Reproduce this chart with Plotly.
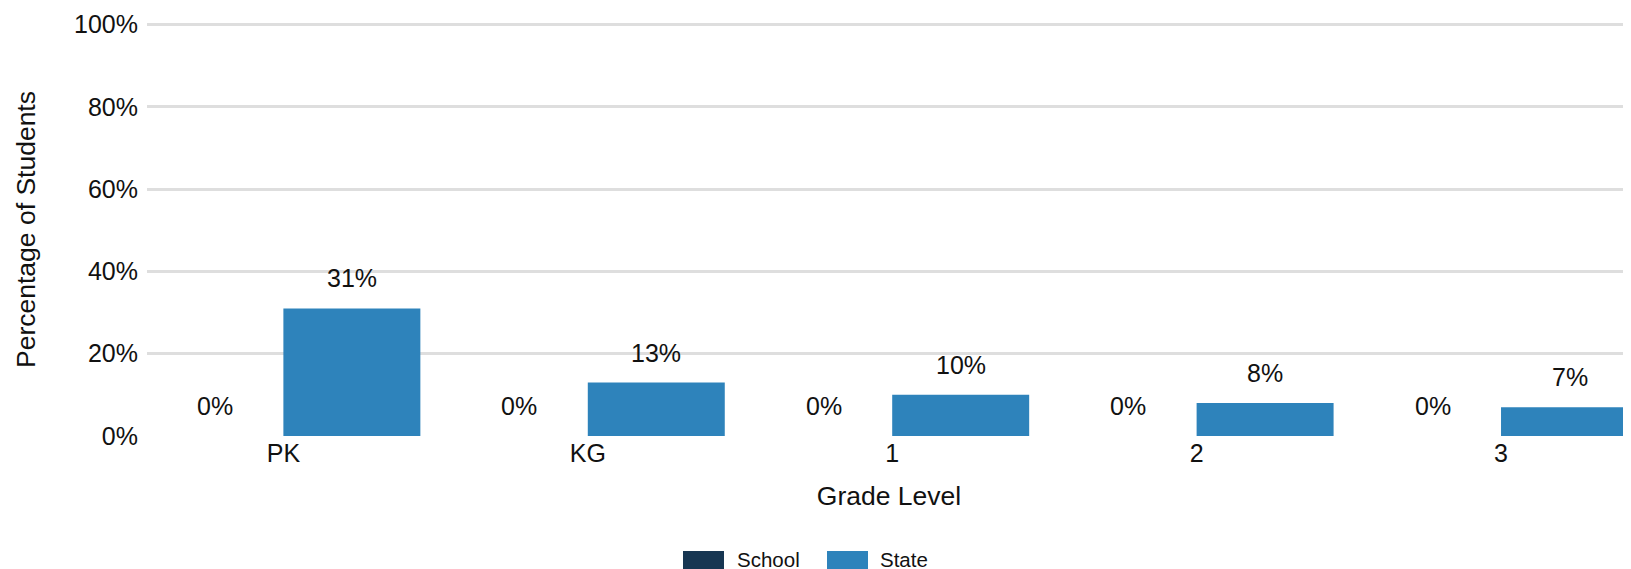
import plotly.graph_objects as go

categories = ["PK", "KG", "1", "2", "3"]
school_values = [0, 0, 0, 0, 0]
state_values = [31, 13, 10, 8, 7]
series_names = ["School", "State"]
series_colors = ["#173652", "#2E83BB"]
y_ticks = [0, 20, 40, 60, 80, 100]
y_tick_labels = ["0%", "20%", "40%", "60%", "80%", "100%"]

OFF = 8  # page body margin
W, H = 1631 - OFF, 569 - OFF
YMAX = 100.4
ML, MR, MB = 147 - OFF, 0, 133
MT = 25 - OFF - 411 * (YMAX - 100) / 100
PW, PH = W - ML - MR, H - MT - MB

FONT = "Liberation Sans, Arial, sans-serif"
TXT = "#111111"

fig = go.Figure()
for name, vals, col in zip(series_names, [school_values, state_values], series_colors):
    fig.add_trace(go.Bar(x=categories, y=vals, name=name, marker_color=col,
                         marker_line_width=0, showlegend=False))

# value labels above each bar
annotations = []
bar_half = 0.225
for i, (s, t) in enumerate(zip(school_values, state_values)):
    for off, v in ((-bar_half, s), (bar_half, t)):
        annotations.append(dict(x=i + off, y=v, xref="x", yref="y", text=f"{v}%",
                                showarrow=False, yanchor="bottom", yshift=14,
                                font=dict(family=FONT, size=25, color=TXT)))

def px2paper_x(px):
    return (px - OFF - ML) / PW

def px2paper_y(py):
    return (H - MB - (py - OFF)) / PH

# custom legend
shapes = []
legend_items = [(683, 735), (827, 878)]
for (sx, tx), name, col in zip(legend_items, series_names, series_colors):
    shapes.append(dict(type="rect", xref="paper", yref="paper",
                       x0=px2paper_x(sx), x1=px2paper_x(sx + 41),
                       y0=px2paper_y(551), y1=px2paper_y(590),
                       fillcolor=col, line_width=0, layer="above"))
    annotations.append(dict(x=px2paper_x(tx), y=px2paper_y(559), xref="paper", yref="paper",
                            text=name, showarrow=False, xanchor="left", yanchor="middle",
                            font=dict(family=FONT, size=20.5, color=TXT)))

fig.update_layout(
    width=W, height=H,
    margin=dict(l=ML, r=MR, t=MT, b=MB, pad=0),
    plot_bgcolor="white", paper_bgcolor="white",
    barmode="group", bargap=0.1, bargroupgap=0,
    font=dict(family=FONT, size=25, color=TXT),
    annotations=annotations, shapes=shapes,
    xaxis=dict(type="category", range=[-0.448, 4.427], showgrid=False, zeroline=False,
               showline=False, ticks="", tickfont=dict(size=25, color=TXT),
               ticklabelstandoff=0,
               title=dict(text="Grade Level", font=dict(size=26.5, color=TXT), standoff=20)),
    yaxis=dict(range=[0, YMAX], tickvals=y_ticks, ticktext=y_tick_labels,
               showgrid=True, gridcolor="#dedede", gridwidth=3, zeroline=False,
               showline=False, ticks="", tickfont=dict(size=25, color=TXT),
               ticklabelstandoff=8,
               title=dict(text="Percentage of Students", font=dict(size=26.5, color=TXT), standoff=30)),
)

fig.write_html("out.html")
